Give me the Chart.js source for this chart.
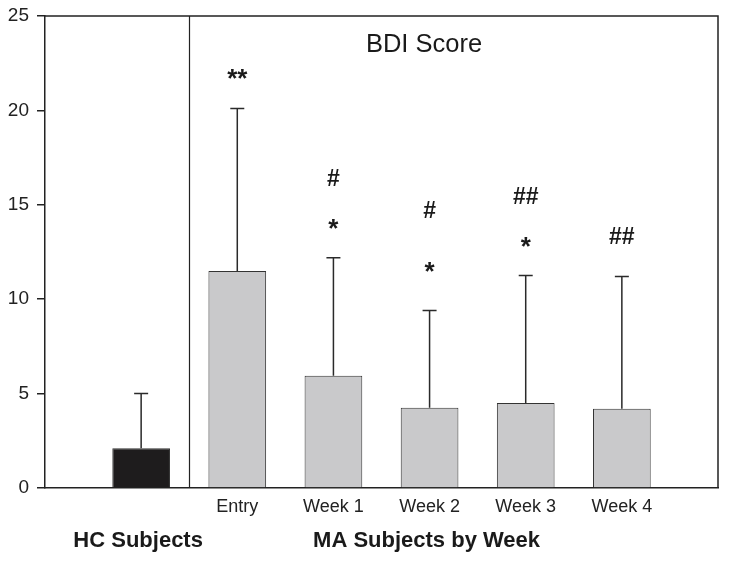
<!DOCTYPE html>
<html>
<head>
<meta charset="utf-8">
<script src="https://cdn.jsdelivr.net/npm/chart.js@4"></script>
<style>
  html, body { margin: 0; padding: 0; background: #fff; }
  #wrap { width: 729px; height: 564px; }
</style>
</head>
<body>
<div id="wrap"><canvas id="bdiChart" width="729" height="564"></canvas></div>
<script>
// categories (first slot and last slot are empty spacing)
const categories = ['', '', 'Entry', 'Week 1', 'Week 2', 'Week 3', 'Week 4', ''];
const means = [null, 2.1, 11.5, 5.95, 4.25, 4.5, 4.2, null];
const sdTop = [null, 5.0, 20.1, 12.2, 9.4, 11.25, 11.2, null];
// significance marks and the level (score units) of their baseline
const marksHash = [null, null, null, '#', '#', '##', '##', null];
const marksHashLevel = [null, null, null, 16.0, 14.3, 15.04, 12.92, null];
const marksStar = [null, null, '**', '*', '*', '*', null, null];
const marksStarLevel = [null, null, 21.24, 13.32, 11.04, 12.36, null, null];
const groupTitles = ['HC Subjects', 'MA Subjects by Week'];
const groupAt = [1, 4];
const yTicks = [0, 5, 10, 15, 20, 25];
const chartTitle = 'BDI Score';

const FONT = "'Liberation Sans', Arial, sans-serif";
const barColors = means.map((v, i) => i === 1 ? '#1e1c1d' : '#c9c9cb');

const extrasPlugin = {
    id: 'extras',
    afterDatasetsDraw(chart) {
        const ctx = chart.ctx;
        const x = chart.scales.x;
        const y = chart.scales.y;
        const area = chart.chartArea;
        ctx.save();

        // frame top and right
        ctx.strokeStyle = '#222';
        ctx.lineWidth = 1.5;
        ctx.beginPath();
        ctx.moveTo(area.left, area.top);
        ctx.lineTo(area.right, area.top);
        ctx.lineTo(area.right, area.bottom);
        ctx.stroke();

        // separator between HC and MA
        const sx = Math.round(x.getPixelForValue(1.5)) + 0.5;
        ctx.lineWidth = 1.2;
        ctx.beginPath();
        ctx.moveTo(sx, area.top);
        ctx.lineTo(sx, area.bottom);
        ctx.stroke();

        // error bars (upper only)
        ctx.strokeStyle = '#2a2a2a';
        ctx.lineWidth = 1.5;
        means.forEach((m, i) => {
            if (m === null) return;
            const cx = x.getPixelForValue(i);
            const y0 = y.getPixelForValue(m);
            const y1 = y.getPixelForValue(sdTop[i]);
            ctx.beginPath();
            ctx.moveTo(cx, y0);
            ctx.lineTo(cx, y1);
            ctx.moveTo(cx - 7, y1);
            ctx.lineTo(cx + 7, y1);
            ctx.stroke();
        });

        // significance marks
        ctx.fillStyle = '#1a1a1a';
        ctx.textAlign = 'center';
        ctx.textBaseline = 'alphabetic';
        ctx.font = 'bold 23px ' + FONT;
        marksHash.forEach((t, i) => {
            if (!t) return;
            ctx.fillText(t, x.getPixelForValue(i), y.getPixelForValue(marksHashLevel[i]));
        });
        ctx.font = 'bold 26px ' + FONT;
        marksStar.forEach((t, i) => {
            if (!t) return;
            ctx.fillText(t, x.getPixelForValue(i), y.getPixelForValue(marksStarLevel[i]));
        });

        // title inside the plot
        ctx.font = '25.5px ' + FONT;
        ctx.fillText(chartTitle, 424, 52);

        // group titles under the axis
        ctx.font = 'bold 22px ' + FONT;
        ctx.textBaseline = 'middle';
        groupTitles.forEach((t, k) => {
            ctx.fillText(t, x.getPixelForValue(groupAt[k]) - 3, 541);
        });
        ctx.restore();
    }
};

new Chart(document.getElementById('bdiChart'), {
    type: 'bar',
    data: {
        labels: categories,
        datasets: [{
            data: means,
            backgroundColor: barColors,
            borderColor: '#333',
            borderWidth: 1,
            barPercentage: 0.6,
            categoryPercentage: 1
        }]
    },
    options: {
        responsive: false,
        animation: false,
        layout: { padding: { top: 0, right: 11, left: 0, bottom: 0 } },
        plugins: {
            legend: { display: false },
            tooltip: { enabled: false }
        },
        scales: {
            x: {
                offset: false,
                grid: { display: false, drawTicks: false },
                border: { display: true, color: '#222', width: 1.5 },
                ticks: {
                    color: '#222',
                    font: { family: FONT, size: 18 },
                    padding: 8,
                    maxRotation: 0,
                    autoSkip: false
                },
                afterFit(scale) { scale.height = 76; }
            },
            y: {
                min: 0,
                max: 25,
                afterBuildTicks(scale) { scale.ticks = yTicks.map(v => ({ value: v })); },
                grid: {
                    drawOnChartArea: false,
                    drawTicks: true,
                    tickLength: 8,
                    color: '#222',
                    lineWidth: 1.5
                },
                border: { display: true, color: '#222', width: 1.5 },
                ticks: {
                    color: '#222',
                    font: { family: FONT, size: 19 },
                    padding: 8
                },
                afterFit(scale) {
                    scale.width = 45;
                    scale.paddingTop = 16;
                    scale.paddingBottom = 0;
                }
            }
        }
    },
    plugins: [extrasPlugin]
});
</script>
</body>
</html>
